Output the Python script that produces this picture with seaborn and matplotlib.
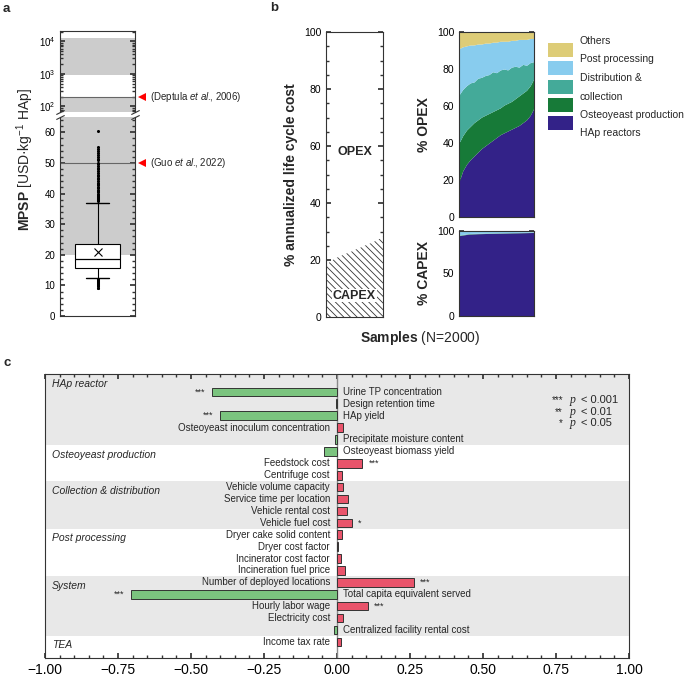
import numpy as np
import pandas as pd
import matplotlib.pyplot as plt
from matplotlib.patches import Rectangle
from matplotlib.ticker import MultipleLocator, FuncFormatter
import seaborn as sns

# ---------------- data ----------------
# a: MPSP distribution (USD/kg HAp), box summary
mpsp_q1, mpsp_med, mpsp_q3 = 15.7, 18.7, 23.5
mpsp_mean = 20.8
mpsp_whislo, mpsp_whishi = 12.5, 37.0
mpsp_fliers = [9.0, 9.3, 9.7, 10.0, 10.4, 10.7, 11.1, 11.4, 11.8, 12.2,
               37.4, 37.8, 38.1, 38.5, 38.9, 39.3, 39.6, 40.0, 40.4, 40.9,
               41.3, 41.8, 42.2, 42.7, 43.1, 43.6, 44.0, 44.6, 45.1, 45.7,
               46.2, 46.8, 47.3, 47.9, 48.4, 49.0, 49.6, 50.1, 50.8, 51.4,
               52.0, 52.7, 53.3, 54.0, 54.6, 55.1, 60.3]
band_low = [20, 195]
band_high = [900, 13000]
ref_deptula = 195
ref_guo = 50

# b: sorted samples
samples = [0, 100, 200, 300, 400, 500, 600, 700, 800, 900, 1000,
           1100, 1200, 1300, 1400, 1500, 1600, 1700, 1800, 1900, 2000]
capex_share = [17.5, 19.0, 19.8, 20.4, 20.9, 21.3, 21.8, 22.2, 22.6, 23.0, 23.5,
               23.9, 24.3, 24.8, 25.2, 25.6, 26.0, 26.5, 27.0, 27.5, 28.2]
opex_hap = [19, 25, 28.5, 31, 33, 35, 37, 38.5, 40, 41.5, 43,
            44.5, 45.5, 46.5, 47.5, 48.5, 49.5, 51, 52.5, 55, 59]
opex_osteo = [21, 19, 18.5, 18, 18, 17.5, 17, 16.5, 16, 15.5, 15,
              14.5, 15, 15, 15, 15.5, 16, 16, 16, 16, 16]
opex_dist = [26, 25, 24, 23.5, 22, 22.5, 21.5, 21.5, 21, 21.5, 20,
             20.5, 19.5, 18, 18.5, 17.5, 15.5, 15.5, 13.5, 12.5, 9]
opex_post = [25, 23, 21.5, 20.5, 20, 18.5, 18, 17.5, 17, 16, 16.5,
             15.5, 15, 15.5, 14.5, 14, 15, 13.5, 14, 13, 12.5]
opex_others = [9, 8, 7.5, 7, 7, 6.5, 6.5, 6, 6, 5.5, 5.5,
               5, 5, 5, 4.5, 4.5, 4, 4, 4, 3.5, 3.5]
capex_samples = [0, 250, 500, 750, 1000, 1250, 1500, 1750, 2000]
capex_hap = [94.5, 96.3, 96.8, 97.1, 97.4, 97.6, 97.8, 98.0, 98.3]
capex_osteo = [0.3, 0.3, 0.2, 0.2, 0.2, 0.2, 0.2, 0.2, 0.2]
capex_dist = [0.5, 0.4, 0.4, 0.4, 0.3, 0.3, 0.3, 0.3, 0.3]
capex_post = [4.2, 2.6, 2.2, 1.9, 1.7, 1.5, 1.4, 1.2, 1.0]
capex_others = [0.5, 0.4, 0.4, 0.4, 0.4, 0.4, 0.3, 0.3, 0.2]
cost_colors = ["#332288", "#177a38", "#44aa99", "#88ccee", "#ddcc77"]
leg_lines = ["Others", "Post processing", "Distribution &", "collection",
             "Osteoyeast production", "HAp reactors"]

# c: Spearman's rho
params = ["Urine TP concentration", "Design retention time", "HAp yield",
          "Osteoyeast inoculum concentration", "Precipitate moisture content",
          "Osteoyeast biomass yield", "Feedstock cost", "Centrifuge cost",
          "Vehicle volume capacity", "Service time per location", "Vehicle rental cost",
          "Vehicle fuel cost", "Dryer cake solid content", "Dryer cost factor",
          "Incinerator cost factor", "Incineration fuel price",
          "Number of deployed locations", "Total capita equivalent served",
          "Hourly labor wage", "Electricity cost", "Centralized facility rental cost",
          "Income tax rate"]
rho = [-0.428, -0.002, -0.40, 0.02, -0.007, -0.043, 0.087, 0.016,
       0.019, 0.039, 0.035, 0.051, 0.016, 0.002, 0.012, 0.029,
       0.262, -0.705, 0.105, 0.019, -0.009, 0.013]
signif = ["***", "", "***", "", "", "", "***", "", "", "", "", "*",
          "", "", "", "", "***", "***", "***", "", "", ""]
groups = ["HAp reactor", "Osteoyeast production", "Collection & distribution",
          "Post processing", "System", "TEA"]
group_sizes = [5, 3, 4, 4, 5, 1]

# ---------------- style ----------------
W, H = 685, 676


def rect(x0, y0, x1, y1):
    return [x0 / W, 1 - y1 / H, (x1 - x0) / W, (y1 - y0) / H]


sns.set_theme(style="ticks")
plt.rcParams["font.family"] = ["Liberation Sans", "DejaVu Sans"]
plt.rcParams.update({
    "mathtext.fontset": "custom",
    "mathtext.rm": "Liberation Sans",
    "mathtext.it": "Liberation Sans:italic",
    "mathtext.bf": "Liberation Sans:bold",
    "font.size": 7,
    "xtick.direction": "in",
    "ytick.direction": "in",
    "axes.edgecolor": "#333333",
    "axes.linewidth": 0.8,
    "xtick.color": "#333333",
    "ytick.color": "#333333",
    "xtick.labelcolor": "black",
    "ytick.labelcolor": "black",
    "xtick.major.size": 3.5,
    "ytick.major.size": 3.5,
    "xtick.minor.size": 2,
    "ytick.minor.size": 2,
    "hatch.linewidth": 0.6,
})
gray = "#cccccc"

fig = plt.figure(figsize=(W / 100, H / 100), dpi=100)

# ---------------- panel a ----------------
ax_up = fig.add_axes(rect(60, 31, 135, 112))
ax_lo = fig.add_axes(rect(60, 117, 135, 316))
for ax in (ax_up, ax_lo):
    ax.axhspan(band_low[0], band_low[1], color=gray, lw=0, zorder=0)
    ax.set_xlim(0.5, 1.5)
    ax.tick_params(which="both", bottom=False, top=False, labelbottom=False,
                   left=True, right=True, labelsize=7)
ax_up.axhspan(band_high[0], band_high[1], color=gray, lw=0, zorder=0)
ax_up.set_yscale("log")
ax_up.set_ylim(67, 2.1e4)
ax_up.set_yticks([1e2, 1e3, 1e4])
ax_up.axhline(ref_deptula, color="#666666", lw=0.8)
ax_up.spines["bottom"].set_visible(False)
ax_lo.spines["top"].set_visible(False)
ax_lo.set_ylim(0, 65)
ax_lo.yaxis.set_major_locator(MultipleLocator(10))
ax_lo.yaxis.set_minor_locator(MultipleLocator(2))
ax_lo.axhline(ref_guo, color="#666666", lw=0.8)

stats = [dict(med=mpsp_med, q1=mpsp_q1, q3=mpsp_q3, whislo=mpsp_whislo,
              whishi=mpsp_whishi, mean=mpsp_mean, fliers=np.array(mpsp_fliers), label="")]
ax_lo.bxp(stats, positions=[1], widths=0.59, capwidths=0.31, showmeans=True,
          patch_artist=True,
          boxprops=dict(facecolor="white", edgecolor="black", lw=0.8),
          medianprops=dict(color="black", lw=0.9),
          whiskerprops=dict(color="black", lw=0.8),
          capprops=dict(color="black", lw=1.0),
          meanprops=dict(marker="x", markeredgecolor="black", markersize=6, mew=0.8),
          flierprops=dict(marker="o", markersize=1.2, markerfacecolor="black",
                          markeredgecolor="black"))

brk = dict(marker=[(-1, -0.5), (1, 0.5)], markersize=6, linestyle="none",
           color="#333333", mec="#333333", mew=0.8, clip_on=False)
ax_up.plot([0, 1], [0, 0], transform=ax_up.transAxes, **brk)
ax_lo.plot([0, 1], [1, 1], transform=ax_lo.transAxes, **brk)

for ax, val, txt in ((ax_up, ref_deptula, r"(Deptula $\it{et\ al.}\!\!\rm{,}$ 2006)"),
                     (ax_lo, ref_guo, r"(Guo $\it{et\ al.}\!\!\rm{,}$ 2022)")):
    ax.plot([1.09], [val], marker="<", color="red", ms=6, mew=0,
            transform=ax.get_yaxis_transform(), clip_on=False)
    ax.text(1.2, val, txt, transform=ax.get_yaxis_transform(), fontsize=7,
            va="center", ha="left")

fig.text(25 / W, 1 - 160 / H, r"$\bf{MPSP}$ [USD·kg$^{-1}$ HAp]", rotation=90,
         fontsize=10, ha="center", va="center")

# ---------------- panel b ----------------
axb = fig.add_axes(rect(326, 32, 383, 317))
axb.fill_between(samples, 0, capex_share, facecolor="white", edgecolor="#333333",
                 hatch="\\\\\\\\\\", lw=0)
axb.set_xlim(0, 2000)
axb.set_ylim(0, 100)
axb.yaxis.set_major_locator(MultipleLocator(20))
axb.yaxis.set_minor_locator(MultipleLocator(5))
axb.tick_params(which="both", bottom=False, labelbottom=False, right=True, labelsize=7.5)
axb.set_ylabel("% annualized life cycle cost", fontsize=10, fontweight="bold", labelpad=4)
axb.text(0.5, 58, "OPEX", transform=axb.get_yaxis_transform(), ha="center",
         va="center", fontsize=9, fontweight="bold")
axb.text(0.5, 7.5, "CAPEX", transform=axb.get_yaxis_transform(), ha="center",
         va="center", fontsize=9, fontweight="bold",
         bbox=dict(facecolor="white", edgecolor="none", pad=0.5))

ax_op = fig.add_axes(rect(459, 32, 534, 217))
ax_op.stackplot(samples, opex_hap, opex_osteo, opex_dist, opex_post, opex_others,
                colors=cost_colors, lw=0)
ax_op.set_ylim(0, 100)
ax_op.yaxis.set_major_locator(MultipleLocator(20))
ax_op.yaxis.set_minor_locator(MultipleLocator(5))
ax_op.set_ylabel("% OPEX", fontsize=10, fontweight="bold", labelpad=4)

ax_cp = fig.add_axes(rect(459, 231, 534, 316))
ax_cp.stackplot(capex_samples, capex_hap, capex_osteo, capex_dist, capex_post,
                capex_others, colors=cost_colors, lw=0)
ax_cp.set_ylim(0, 100)
ax_cp.yaxis.set_major_locator(MultipleLocator(50))
ax_cp.yaxis.set_minor_locator(MultipleLocator(10))
ax_cp.set_ylabel("% CAPEX", fontsize=10, fontweight="bold", labelpad=4)
for ax in (ax_op, ax_cp):
    ax.set_xlim(0, 2000)
    ax.tick_params(which="both", bottom=False, labelbottom=False, right=True,
                   labelsize=7.5)

fig.text(420 / W, 1 - 338 / H, r"$\bf{Samples}$ (N=2000)", fontsize=10,
         ha="center", va="center")

# legend, drawn by hand to keep the original spacing
patch_y = [123, 105, 87, 68, 50]
for c, yc in zip(cost_colors, patch_y):
    fig.add_artist(Rectangle((548 / W, 1 - (yc + 6.5) / H), 25 / W, 13 / H,
                             transform=fig.transFigure, facecolor=c, edgecolor="none"))
for i, t in enumerate(leg_lines):
    fig.text(580 / W, 1 - (41 + i * 18.5) / H, t, fontsize=7.5, va="center", ha="left")

# ---------------- panel c ----------------
axc = fig.add_axes(rect(45, 374, 629, 658))
start = 0
for i, (g, n) in enumerate(zip(groups, group_sizes)):
    lo = start - 0.5 if i else -1.5
    hi = start + n - 0.5
    if i % 2 == 0:
        axc.axhspan(lo, hi, color="#e8e8e8", lw=0, zorder=0)
    axc.text(-0.976, lo + 0.8, g, fontsize=7.5, style="italic", va="center", ha="left")
    start += n

df = pd.DataFrame({"param": params, "rho": rho,
                   "sign": ["neg" if v < 0 else "pos" for v in rho]})
sns.barplot(data=df, x="rho", y="param", hue="sign", orient="h", ax=axc,
            palette={"neg": "#7bc47f", "pos": "#e9546b"}, saturation=1,
            width=0.72, edgecolor="#333333", linewidth=0.7, legend=False, zorder=2)
axc.axvline(0, color="#8a8a8a", lw=1.0, zorder=1)

for i, (p, v, s) in enumerate(zip(params, rho, signif)):
    if v > 0:
        axc.text(-0.024, i, p, ha="right", va="center", fontsize=7)
        if s:
            axc.text(v + 0.022, i, s, ha="left", va="center", fontsize=6.5)
    else:
        axc.text(0.02, i, p, ha="left", va="center", fontsize=7)
        if s:
            axc.text(v - 0.022, i, s, ha="right", va="center", fontsize=6.5)

for yy, s, lab in ((0.67, "***", "< 0.001"), (1.66, "**", "< 0.01"), (2.63, "*", "< 0.05")):
    axc.text(0.774, yy, s, ha="right", va="center", fontsize=7)
    axc.text(0.798, yy, "p", ha="left", va="center", fontsize=8.5,
             family="Liberation Serif", style="italic")
    axc.text(0.836, yy, lab, ha="left", va="center", fontsize=8)

axc.set_xlim(-1, 1)
axc.set_ylim(22.35, -1.5)
axc.set_yticks([])
axc.set_xlabel("")
axc.set_ylabel("")
axc.xaxis.set_major_locator(MultipleLocator(0.25))
axc.xaxis.set_minor_locator(MultipleLocator(0.05))
axc.xaxis.set_major_formatter(FuncFormatter(lambda v, _: f"{v:.2f}".replace("-", "\u2212")))
axc.tick_params(axis="x", which="both", top=True, labelsize=10)

# panel letters
fig.text(3 / W, 1 - 9 / H, "a", fontsize=9.5, fontweight="bold", va="center")
fig.text(270 / W, 1 - 8 / H, "b", fontsize=9.5, fontweight="bold", va="center")
fig.text(3 / W, 1 - 363 / H, "c", fontsize=9.5, fontweight="bold", va="center")

fig.savefig("out.png", dpi=100)
